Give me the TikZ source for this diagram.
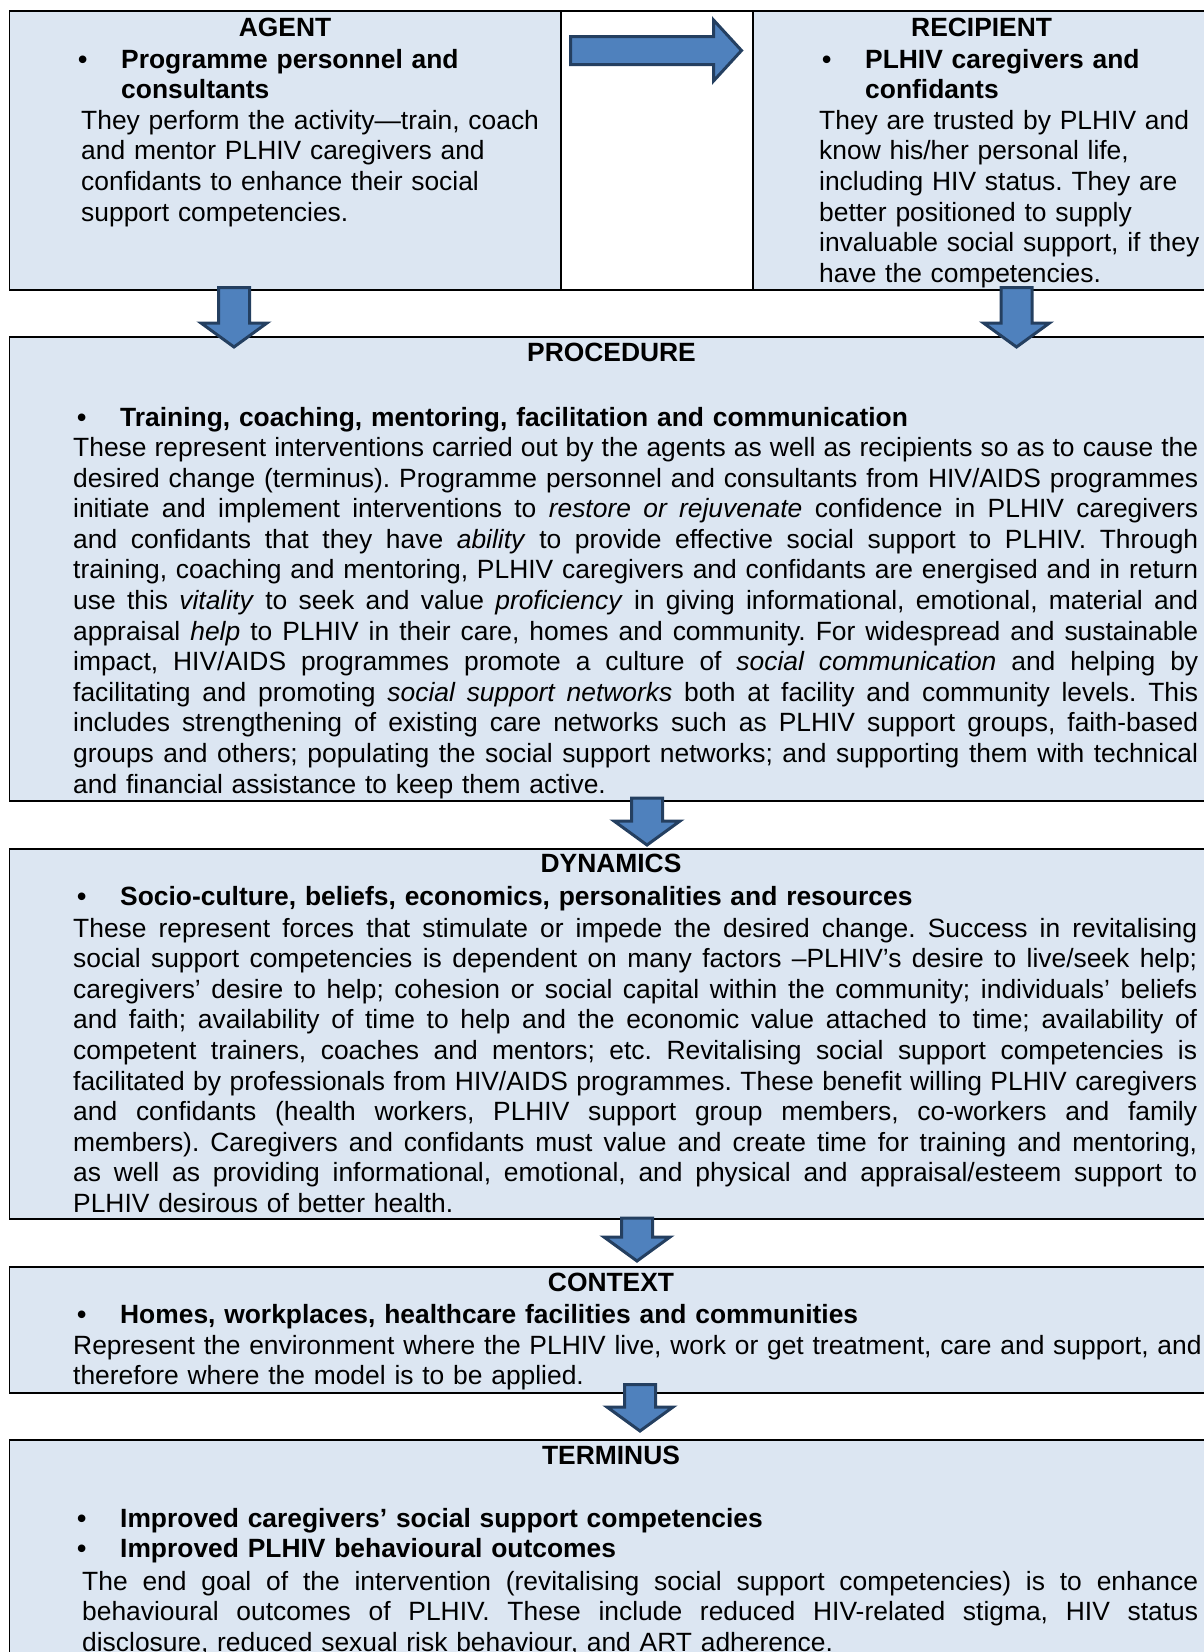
\documentclass[tikz,border=0pt]{standalone}
\usepackage{fontspec}
\setmainfont{Liberation Sans}
\usepackage{tikz}
\usetikzlibrary{calc,positioning}
\usepackage{xcolor}
\definecolor{boxblue}{HTML}{DCE6F2}
\definecolor{arrowblue}{HTML}{4F81BD}
\definecolor{arrowline}{HTML}{243F60}
\frenchspacing

\newcommand{\bitem}{\makebox[43pt][l]{\textbullet}}
\newcommand{\jline}[1]{{\spaceskip=0.278em plus 0.5em minus 0.14em
  \makebox[\linewidth][s]{#1}}\\}
\newcommand{\blockdown}[2]{%
  \draw[blockarrow] let \p1=(#1), \p2=(#2) in
    (\x1-15.5pt,\y1) -- (\x1+15.5pt,\y1) -- (\x1+15.5pt,\y2+24pt)
    -- (\x1+33pt,\y2+24pt) -- (\x2,\y2) -- (\x1-33pt,\y2+24pt)
    -- (\x1-15.5pt,\y2+24pt) -- cycle;}
\newcommand{\blockright}[2]{%
  \draw[blockarrow] let \p1=(#1), \p2=(#2) in
    (\x1,\y1+14pt) -- (\x2-28pt,\y1+14pt) -- (\x2-28pt,\y1+30.5pt)
    -- (\x2,\y2) -- (\x2-28pt,\y1-30.5pt) -- (\x2-28pt,\y1-14pt)
    -- (\x1,\y1-14pt) -- cycle;}

\begin{document}
\begin{tikzpicture}[
  x=1pt, y=-1pt,
  panel/.style={draw=black,line width=1.6pt,fill=boxblue,
                inner sep=0pt,outer sep=0pt,anchor=north west},
  gapcell/.style={panel,fill=white},
  title/.style={font=\fontsize{26.4}{30.6}\selectfont\bfseries,
                anchor=base,inner sep=0pt},
  item/.style={font=\fontsize{26.4}{30.6}\selectfont\bfseries,
               anchor=base west,inner sep=0pt,align=left},
  body/.style={font=\fontsize{26.4}{30.6}\selectfont,
               anchor=base west,inner sep=0pt,align=left},
  blockarrow/.style={draw=arrowline,fill=arrowblue,line width=3pt,
                     line join=miter}
]
\useasboundingbox (0,0) rectangle (1204,1652);
\clip (0,0) rectangle (1204,1652);

\node[panel,minimum width=551.5pt,minimum height=279pt] (agent) at (9.5,11) {};
\node[gapcell,minimum width=192pt,minimum height=279pt] (gap) at (561,11) {};
\node[panel,minimum width=461pt,minimum height=279pt] (recipient) at (753,11) {};
\node[panel,minimum width=1204.5pt,minimum height=464pt] (procedure) at (9.5,337) {};
\node[panel,minimum width=1204.5pt,minimum height=370pt] (dynamics) at (9.5,849) {};
\node[panel,minimum width=1204.5pt,minimum height=126pt] (context) at (9.5,1267) {};
\node[panel,minimum width=1204.5pt,minimum height=260pt] (terminus) at (9.5,1440) {};

% agent
\node[title] (agent-t) at (285,36) {AGENT};
\node[item,text width=470pt] (agent-i) at (78,68.3)
  {\bitem Programme personnel and\\\hspace*{43pt}consultants};
\node[body,text width=470pt] (agent-b) at (81,129.3)
  {They perform the activity—train, coach\\
   and mentor PLHIV caregivers and\\
   confidants to enhance their social\\
   support competencies.};

% recipient
\node[title] (recipient-t) at (981.6,36) {RECIPIENT};
\node[item,text width=390pt] (recipient-i) at (822,68.3)
  {\bitem PLHIV caregivers and\\\hspace*{43pt}confidants};
\node[body,text width=390pt] (recipient-b) at (819,129.3)
  {They are trusted by PLHIV and\\
   know his/her personal life,\\
   including HIV status. They are\\
   better positioned to supply\\
   invaluable social support, if they\\
   have the competencies.};

% procedure
\node[title] (procedure-t) at (611.5,361.7) {PROCEDURE};
\node[item,text width=1125pt] (procedure-i) at (77,426)
  {\bitem Training, coaching, mentoring, facilitation and communication};
\node[body,text width=1125pt] (procedure-b) at (73,456.5)
  {\jline{These represent interventions carried out by the agents as well as recipients so as to cause the}
   \jline{desired change (terminus). Programme personnel and consultants from HIV/AIDS programmes}
   \jline{initiate and implement interventions to \textit{restore or rejuvenate} confidence in PLHIV caregivers}
   \jline{and confidants that they have \textit{ability} to provide effective social support to PLHIV. Through}
   \jline{training, coaching and mentoring, PLHIV caregivers and confidants are energised and in return}
   \jline{use this \textit{vitality} to seek and value \textit{proficiency} in giving informational, emotional, material and}
   \jline{appraisal \textit{help} to PLHIV in their care, homes and community. For widespread and sustainable}
   \jline{impact, HIV/AIDS programmes promote a culture of \textit{social communication} and helping by}
   \jline{facilitating and promoting \textit{social support networks} both at facility and community levels. This}
   \jline{includes strengthening of existing care networks such as PLHIV support groups, faith-based}
   \jline{groups and others; populating the social support networks; and supporting them with technical}
   and financial assistance to keep them active.};

% dynamics
\node[title] (dynamics-t) at (611,872) {DYNAMICS};
\node[item,text width=1124pt] (dynamics-i) at (77,905)
  {\bitem Socio-culture, beliefs, economics, personalities and resources};
\node[body,text width=1124pt] (dynamics-b) at (73,937)
  {\jline{These represent forces that stimulate or impede the desired change. Success in revitalising}
   \jline{social support competencies is dependent on many factors –PLHIV’s desire to live/seek help;}
   \jline{caregivers’ desire to help; cohesion or social capital within the community; individuals’ beliefs}
   \jline{and faith; availability of time to help and the economic value attached to time; availability of}
   \jline{competent trainers, coaches and mentors; etc. Revitalising social support competencies is}
   \jline{facilitated by professionals from HIV/AIDS programmes. These benefit willing PLHIV caregivers}
   \jline{and confidants (health workers, PLHIV support group members, co-workers and family}
   \jline{members). Caregivers and confidants must value and create time for training and mentoring,}
   \jline{as well as providing informational, emotional, and physical and appraisal/esteem support to}
   PLHIV desirous of better health.};

% context
\node[title] (context-t) at (611,1291) {CONTEXT};
\node[item,text width=1124pt] (context-i) at (77,1323)
  {\bitem Homes, workplaces, healthcare facilities and communities};
\node[body,text width=1150pt] (context-b) at (73,1354)
  {Represent the environment where the PLHIV live, work or get treatment, care and support, and\\
   therefore where the model is to be applied.};

% terminus
\node[title] (terminus-t) at (611,1464) {TERMINUS};
\node[item,text width=1116pt] (terminus-i) at (77,1527)
  {\bitem Improved caregivers’ social support competencies\\
   \bitem Improved PLHIV behavioural outcomes};
\node[body,text width=1116pt] (terminus-b) at (82,1590)
  {\jline{The end goal of the intervention (revitalising social support competencies) is to enhance}
   \jline{behavioural outcomes of PLHIV. These include reduced HIV-related stigma, HIV status}
   disclosure, reduced sexual risk behaviour, and ART adherence.};

% block arrows
\coordinate (ar-s) at (570.5,50.5);
\coordinate (ar-e) at (741.5,50.5);
\coordinate (ag-s) at (234,287.5);
\coordinate (ag-e) at (234,347);
\coordinate (rc-s) at (1016.5,287.5);
\coordinate (rc-e) at (1016.5,347);
\coordinate (pr-s) at (647,798);
\coordinate (pr-e) at (647,845);
\coordinate (dy-s) at (637,1218);
\coordinate (dy-e) at (637,1261);
\coordinate (cx-s) at (640,1384.5);
\coordinate (cx-e) at (640,1431);
\blockright{ar-s}{ar-e}
\blockdown{ag-s}{ag-e}
\blockdown{rc-s}{rc-e}
\blockdown{pr-s}{pr-e}
\blockdown{dy-s}{dy-e}
\blockdown{cx-s}{cx-e}
\end{tikzpicture}
\end{document}
